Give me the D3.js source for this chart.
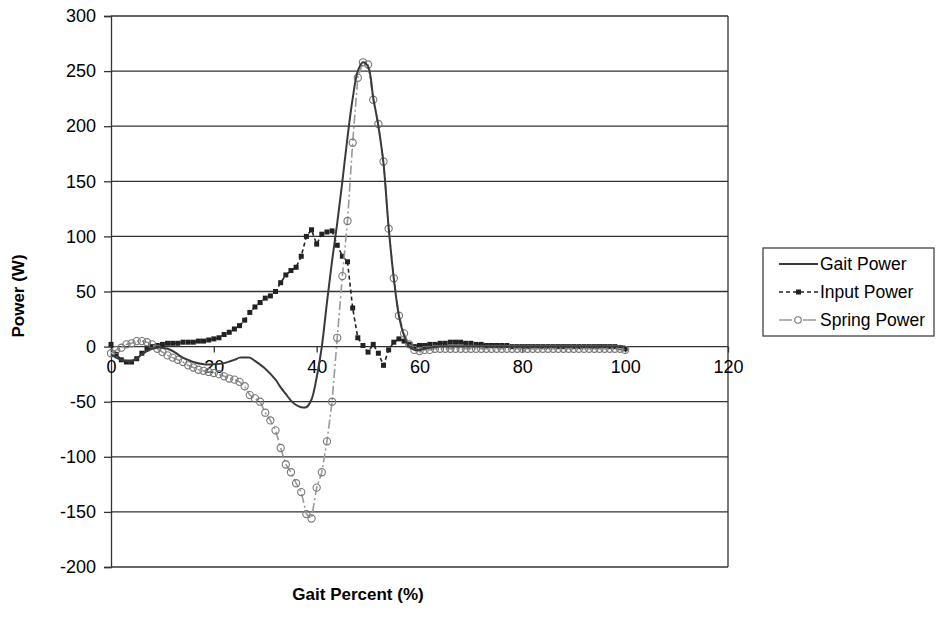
<!DOCTYPE html>
<html>
<head>
<meta charset="utf-8">
<script src="https://cdn.jsdelivr.net/npm/d3@7"></script>
<style>
  body { margin: 0; background: #fff; }
  svg { font-family: "Liberation Sans", Arial, sans-serif; }
</style>
</head>
<body>
<svg width="936" height="618"></svg>
<script>
// data
const gaitX = [0, 1, 2, 3, 4, 5, 6, 7, 8, 9, 10, 11, 12, 13, 14, 15, 16, 18, 20, 22, 24, 25, 26, 27, 28, 30, 32, 33, 34, 35, 36, 37, 38, 39, 40, 41, 42, 43, 44, 45, 46, 47, 48, 49, 50, 51, 52, 53, 54, 55, 56, 57, 58, 59, 60, 62, 64, 70, 80, 90, 100];
const gaitY = [-7, -10, -12, -13, -13, -11, -7, -4, -2, -1, -1, -2, -4, -7, -10, -12, -14, -16, -16, -15, -12, -10, -10, -10, -13, -20, -30, -37, -43, -49, -53, -55, -55, -48, -28, 0, 40, 78, 112, 150, 190, 225, 250, 258, 254, 226, 200, 166, 108, 62, 28, 10, 0, -3, -3, -1, 0, 0, 0, 0, 0];

const inputY = [2, -7, -12, -14, -14, -11, -6, -2, 0, 1, 2, 3, 3, 3, 4, 4, 4, 5, 5, 6,
  7, 8, 11, 13, 16, 19, 24, 31, 36, 40, 44, 46, 50, 58, 65, 69, 72, 82, 100, 106,
  93, 102, 104, 105, 92, 82, 77, 35, 8, 1, -5, 2, -6, -17, -3, 4, 7, 5, 2, 0,
  1, 1, 2, 2, 3, 3, 4, 4, 4, 3, 3, 2, 2, 1, 1, 1, 1, 1, 0, 0,
  0, 0, 0, 0, 0, 0, 0, 0, 0, 0, 0, 0, 0, 0, 0, 0, 0, 0, 0, -1, -2];

const springY = [-6, -3, -1, 2, 3, 5, 5, 4, 2, -2, -5, -8, -10, -12, -14, -17, -19, -21, -22, -23,
  -24, -25, -27, -29, -30, -32, -36, -44, -47, -50, -60, -67, -76, -92, -107, -114, -124, -132, -152, -156,
  -128, -114, -86, -50, 8, 64, 114, 185, 244, 258, 256, 224, 202, 168, 107, 62, 28, 12, 2, -3,
  -4, -3, -3, -2, -2, -2, -2, -2, -2, -2, -2, -2, -2, -2, -2, -2, -2, -2, -2, -2,
  -2, -2, -2, -2, -2, -2, -2, -2, -2, -2, -2, -2, -2, -2, -2, -2, -2, -2, -2, -2, -3];

const pctX = d3.range(0, 101); // 0..100 for input and spring

const xTicks = [0, 20, 40, 60, 80, 100, 120];
const yTicks = [-200, -150, -100, -50, 0, 50, 100, 150, 200, 250, 300];
const legendNames = ["Gait Power", "Input Power", "Spring Power"];

const svg = d3.select("svg");

const x = d3.scaleLinear().domain([0, 120]).range([111, 728]);
const y = d3.scaleLinear().domain([-200, 300]).range([567, 16]);

// horizontal grid lines
svg.append("g")
  .selectAll("line")
  .data(yTicks)
  .join("line")
  .attr("x1", x(0)).attr("x2", x(120))
  .attr("y1", d => y(d)).attr("y2", d => y(d))
  .attr("stroke", "#333").attr("stroke-width", 1.3);

// plot frame (right side)
svg.append("line")
  .attr("x1", x(120)).attr("x2", x(120))
  .attr("y1", y(300)).attr("y2", y(-200))
  .attr("stroke", "#333").attr("stroke-width", 1.3);

// y axis
const yAxis = svg.append("g")
  .attr("transform", `translate(${x(0)},0)`)
  .call(d3.axisLeft(y).tickValues(yTicks).tickSize(7).tickPadding(8).tickFormat(d => String(d)));
yAxis.select(".domain").attr("stroke", "#333").attr("stroke-width", 1.3);
yAxis.selectAll(".tick line").attr("stroke", "#333").attr("stroke-width", 1.3);
yAxis.selectAll("text").attr("font-size", 18).attr("fill", "#000");

// x axis on the zero line
const xAxis = svg.append("g")
  .attr("transform", `translate(0,${y(0)})`)
  .call(d3.axisBottom(x).tickValues(xTicks).tickSize(6).tickSizeOuter(0).tickPadding(8).tickFormat(d => String(d)));
xAxis.select(".domain").remove();
xAxis.selectAll(".tick line").attr("stroke", "#333").attr("stroke-width", 1.3);
xAxis.selectAll("text").attr("font-size", 18).attr("fill", "#000");

// axis titles
svg.append("text")
  .attr("transform", "translate(24,296) rotate(-90)")
  .attr("text-anchor", "middle")
  .attr("font-size", 17).attr("font-weight", "bold")
  .text("Power (W)");

svg.append("text")
  .attr("x", 358).attr("y", 600)
  .attr("text-anchor", "middle")
  .attr("font-size", 17).attr("font-weight", "bold")
  .text("Gait Percent (%)");

// series
const gaitLine = d3.line().x((d, i) => x(gaitX[i])).y(d => y(d)).curve(d3.curveCatmullRom);
const pctLine = d3.line().x((d, i) => x(pctX[i])).y(d => y(d));

svg.append("path")
  .attr("d", pctLine(inputY))
  .attr("fill", "none").attr("stroke", "#222").attr("stroke-width", 1.6)
  .attr("stroke-dasharray", "4,3");

svg.append("g")
  .selectAll("rect")
  .data(inputY)
  .join("rect")
  .attr("x", (d, i) => x(pctX[i]) - 2.5)
  .attr("y", d => y(d) - 2.5)
  .attr("width", 5).attr("height", 5)
  .attr("fill", "#222");

svg.append("path")
  .attr("d", pctLine(springY))
  .attr("fill", "none").attr("stroke", "#999").attr("stroke-width", 1.6)
  .attr("stroke-dasharray", "9,3,2,3");

svg.append("g")
  .selectAll("circle")
  .data(springY)
  .join("circle")
  .attr("cx", (d, i) => x(pctX[i]))
  .attr("cy", d => y(d))
  .attr("r", 3.6)
  .attr("fill", "none").attr("stroke", "#777").attr("stroke-width", 1.1);

svg.append("path")
  .attr("d", gaitLine(gaitY))
  .attr("fill", "none").attr("stroke", "#3a3a3a").attr("stroke-width", 2);

// legend
const legend = svg.append("g");
legend.append("rect")
  .attr("x", 763).attr("y", 248).attr("width", 171).attr("height", 88)
  .attr("fill", "#fff").attr("stroke", "#333").attr("stroke-width", 1.2);

const item = legend.selectAll(".item")
  .data(legendNames)
  .join("g")
  .attr("class", "item")
  .attr("transform", (d, i) => `translate(0,${264 + i * 28})`);

item.append("text")
  .attr("x", 820).attr("y", 0).attr("dy", "0.35em")
  .attr("font-size", 17.5).attr("fill", "#000")
  .text(d => d);

item.filter((d, i) => i === 0).append("line")
  .attr("x1", 779).attr("x2", 818).attr("stroke", "#3a3a3a").attr("stroke-width", 2);

const inItem = item.filter((d, i) => i === 1);
inItem.append("line")
  .attr("x1", 779).attr("x2", 818).attr("stroke", "#222").attr("stroke-width", 1.6)
  .attr("stroke-dasharray", "4,3");
inItem.append("rect")
  .attr("x", 796).attr("y", -2.5).attr("width", 5).attr("height", 5).attr("fill", "#222");

const spItem = item.filter((d, i) => i === 2);
spItem.append("line")
  .attr("x1", 779).attr("x2", 818).attr("stroke", "#999").attr("stroke-width", 1.6)
  .attr("stroke-dasharray", "13,4,3,4");
spItem.append("circle")
  .attr("cx", 798).attr("cy", 0).attr("r", 3.2)
  .attr("fill", "#fff").attr("stroke", "#777").attr("stroke-width", 1.1);
</script>
</body>
</html>
